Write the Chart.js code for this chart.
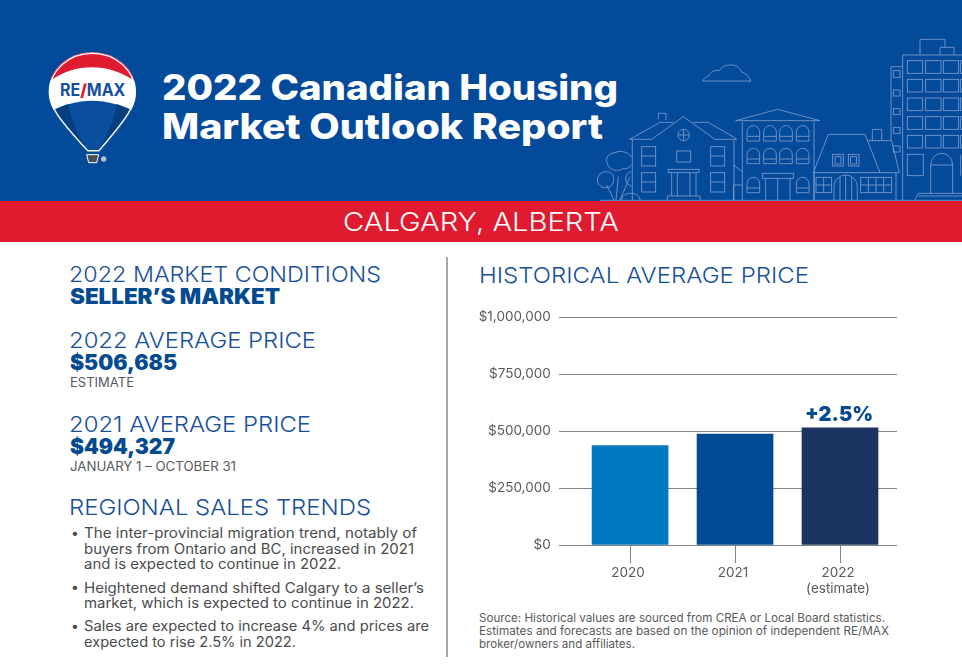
<!DOCTYPE html>
<html>
<head>
<meta charset="utf-8">
<script src="https://cdn.jsdelivr.net/npm/chart.js@4"></script>
<style>
html, body { margin: 0; padding: 0; background: #fff; }
body { width: 962px; height: 669px; position: relative; overflow: hidden; font-family: Inter, sans-serif; }
#top { position: absolute; left: 0; top: 0; width: 962px; height: 201px; background: #034a9a; }
#band { position: absolute; left: 0; top: 201px; width: 962px; height: 41px; background: #e01a2f; }
#rule { position: absolute; left: 446px; top: 257px; width: 2px; height: 400px; background: #a6a8ab; }
#logo { position: absolute; left: 0; top: 30px; }
#town { position: absolute; left: 590px; top: 30px; }
#town * { fill: none; stroke: #7d99cc; stroke-width: 2.6; }
#wrap { position: absolute; left: 470px; top: 300px; width: 435px; height: 300px; }
.t { position: absolute; white-space: nowrap; line-height: 1; transform-origin: left top; }
.title { color: #fff; font-weight: 800; font-size: 35px; }
.city { color: #fff; font-weight: 300; font-size: 26px; }
.head { color: #17509a; font-weight: 300; font-size: 22px; }
.big { color: #034a8f; font-weight: 900; font-size: 21px; }
.small { color: #58595b; font-weight: 400; font-size: 12.5px; }
.body { color: #4a4a4c; font-weight: 400; font-size: 14px; }
.src { color: #58595b; font-weight: 400; font-size: 11.5px; }
</style>
</head>
<body>
<div id="top"></div>
<div id="band"></div>
<div id="rule"></div>

<svg id="logo" width="320" height="150" viewBox="0 0 960 450">
  <defs>
    <clipPath id="env"><path d="M277 67 C350 67 408 120 408 185 C408 230 385 265 298 365 L262 365 C170 265 146 230 146 185 C146 120 204 67 277 67 Z"/></clipPath>
  </defs>
  <path d="M277 67 C350 67 408 120 408 185 C408 230 385 265 298 365 L262 365 C170 265 146 230 146 185 C146 120 204 67 277 67 Z" fill="#fff"/>
  <g clip-path="url(#env)">
    <path d="M140 60 H415 V155 L400 150 C360 125 320 112 277 112 C230 112 190 125 155 150 L140 155 Z" fill="#e01a2f"/>
    <path d="M140 248 L155 242 C190 225 230 212 277 212 C320 212 365 225 400 242 L415 248 V370 H140 Z" fill="#0a4f9e"/>
    <path d="M205 222 C215 280 240 330 268 368 H140 V248 L155 242 Z" fill="#063f80"/>
    <path d="M350 222 C340 280 315 330 292 368 H415 V248 L400 242 Z" fill="#063f80"/>
  </g>
  <path d="M277 70 C348 70 405 122 405 185 C405 230 382 263 297 362 L263 362 C172 263 149 230 149 185 C149 122 206 70 277 70 Z" fill="none" stroke="#fff" stroke-width="4"/>
  <text x="278" y="197" text-anchor="middle" font-family="Inter" font-weight="700" font-size="50" fill="#17509a" textLength="196" lengthAdjust="spacingAndGlyphs">RE<tspan fill="#e01a2f" font-weight="900">/</tspan>MAX</text>
  <path d="M260 374 H296 L290 398 H266 Z" fill="#4a4f57" stroke="#fff" stroke-width="3"/>
  <circle cx="311" cy="387" r="8" fill="#b8c0cc"/>
</svg>

<svg id="town" width="372" height="180" viewBox="0 0 1116 540">
  <defs>
    <rect id="win" width="46" height="38"/>
    <path id="arch" d="M0 46 V19 A19 19 0 0 1 38 19 V46 Z M0 32 H38"/>
  </defs>
  <path d="M338 153 H483 C478 140 468 130 455 126 C450 112 436 104 420 105 C404 105 394 112 388 122 C372 118 360 128 356 138 C348 140 340 146 338 153 Z"/>
  <path d="M30 511 H1116"/>
  <!-- tower -->
  <path d="M938 510 V75 H1116 M990 75 V28 H1065 V52 M1050 75 V52 H1092 V75 M938 110 H903 V330"/>
  <rect x="910" y="122" width="20" height="20"/><rect x="910" y="180" width="20" height="18"/><rect x="910" y="236" width="20" height="18"/><rect x="910" y="292" width="20" height="18"/><rect x="910" y="348" width="20" height="18"/>
  <use href="#win" x="952" y="92"/><use href="#win" x="1007" y="92"/><use href="#win" x="1060" y="92"/><use href="#win" x="1112" y="92"/>
  <use href="#win" x="952" y="148"/><use href="#win" x="1007" y="148"/><use href="#win" x="1060" y="148"/><use href="#win" x="1112" y="148"/>
  <use href="#win" x="952" y="204"/><use href="#win" x="1007" y="204"/><use href="#win" x="1060" y="204"/><use href="#win" x="1112" y="204"/>
  <use href="#win" x="952" y="260"/><use href="#win" x="1007" y="260"/><use href="#win" x="1060" y="260"/><use href="#win" x="1112" y="260"/>
  <use href="#win" x="952" y="316"/><use href="#win" x="1007" y="316"/><use href="#win" x="1060" y="316"/><use href="#win" x="1112" y="316"/>
  <rect x="952" y="373" width="48" height="64"/>
  <path d="M1022 490 V405 A33 35 0 0 1 1088 405 H1022 M1088 405 V490 M1112 373 V437"/>
  <path d="M975 510 L985 490 H1116 M985 498 H1116"/>
  <!-- first house -->
  <path d="M127 510 V330 M432 510 V330 M118 328 H185 L280 260 L375 328 H440 L432 322 L355 277 H310 M250 277 H210 L130 322 L118 328 M205 268 V250 H228 V270"/>
  <circle cx="281" cy="315" r="17"/><path d="M264 315 H298 M281 298 V332"/>
  <rect x="155" y="350" width="42" height="58"/><path d="M155 378 H197"/>
  <rect x="155" y="428" width="42" height="58"/><path d="M155 456 H197"/>
  <rect x="362" y="350" width="42" height="58"/><path d="M362 378 H404"/>
  <rect x="362" y="428" width="42" height="58"/><path d="M362 456 H404"/>
  <rect x="260" y="363" width="42" height="33"/>
  <rect x="235" y="418" width="92" height="10"/>
  <path d="M245 428 V498 M318 428 V498 M262 428 V498 M300 428 V498 M232 510 V498 H330 V510"/>
  <!-- second house -->
  <path d="M457 510 V275 M672 510 V275 M437 272 L563 238 L690 272 Z"/>
  <use href="#arch" x="471" y="287"/><use href="#arch" x="521" y="287"/><use href="#arch" x="569" y="287"/><use href="#arch" x="619" y="287"/>
  <use href="#arch" x="471" y="355"/><use href="#arch" x="521" y="355"/><use href="#arch" x="569" y="355"/><use href="#arch" x="619" y="355"/>
  <use href="#arch" x="471" y="442"/><use href="#arch" x="619" y="442"/>
  <rect x="518" y="430" width="92" height="15"/>
  <path d="M527 445 V510 M600 445 V510 M563 445 V510"/>
  <!-- third house -->
  <path d="M670 428 L715 313 H825 L870 428 M835 332 H905 L928 428 H670 M847 332 V298 H875 V332 M672 428 V510 M918 428 V510"/>
  <rect x="728" y="373" width="32" height="35"/><rect x="735" y="380" width="18" height="22"/>
  <rect x="775" y="373" width="32" height="35"/><rect x="782" y="380" width="18" height="22"/>
  <rect x="678" y="442" width="47" height="46"/><path d="M701 442 V488 M678 465 H725"/>
  <rect x="812" y="442" width="93" height="46"/><path d="M835 442 V488 M858 442 V488 M881 442 V488 M812 465 H905"/>
  <path d="M732 510 V470 A35 35 0 0 1 802 470 V510 M750 442 V510 M767 435 V510 M785 442 V510"/>
  <!-- tree -->
  <path d="M78 510 L85 440 M72 510 L50 465 M90 510 L120 440"/>
  <path d="M125 382 C115 365 90 360 75 368 C55 368 45 385 52 400 C55 420 85 428 100 415 C110 420 120 410 125 405"/>
  <path d="M65 430 C45 418 22 430 22 450 C22 470 45 478 60 470 C72 465 75 440 65 430 Z"/>
  <path d="M125 425 C110 425 103 445 110 458 C115 465 122 468 125 468"/>
  <path d="M95 510 C95 495 110 488 125 490 C140 490 150 500 150 510"/>
  <path d="M430 510 V465 H457 M430 405 L457 425"/>
</svg>

<div class="t title" data-x="162" data-b="100" data-w="456">2022 Canadian Housing</div>
<div class="t title" data-x="162" data-b="139" data-w="441">Market Outlook Report</div>
<div class="t city" data-x="343" data-b="231" data-w="276">CALGARY, ALBERTA</div>

<div class="t head" data-x="69" data-b="282" data-w="312">2022 MARKET CONDITIONS</div>
<div class="t big" data-x="70" data-b="304" data-w="210">SELLER’S MARKET</div>
<div class="t head" data-x="69" data-b="348" data-w="247">2022 AVERAGE PRICE</div>
<div class="t big" data-x="70" data-b="370" data-w="107">$506,685</div>
<div class="t small" data-x="70" data-b="388" data-w="64">ESTIMATE</div>
<div class="t head" data-x="69" data-b="432" data-w="242">2021 AVERAGE PRICE</div>
<div class="t big" data-x="70" data-b="454" data-w="105">$494,327</div>
<div class="t small" data-x="70" data-b="472" data-w="166">JANUARY 1 – OCTOBER 31</div>
<div class="t head" data-x="69" data-b="515" data-w="302">REGIONAL SALES TRENDS</div>

<div class="t body" data-x="71" data-b="538">•</div>
<div class="t body" data-x="84" data-b="538" data-w="333">The inter-provincial migration trend, notably of</div>
<div class="t body" data-x="84" data-b="554" data-w="330">buyers from Ontario and BC, increased in 2021</div>
<div class="t body" data-x="84" data-b="569" data-w="257">and is expected to continue in 2022.</div>
<div class="t body" data-x="71" data-b="592">•</div>
<div class="t body" data-x="84" data-b="593" data-w="340">Heightened demand shifted Calgary to a seller’s</div>
<div class="t body" data-x="84" data-b="608" data-w="330">market, which is expected to continue in 2022.</div>
<div class="t body" data-x="71" data-b="631">•</div>
<div class="t body" data-x="84" data-b="631" data-w="345">Sales are expected to increase 4% and prices are</div>
<div class="t body" data-x="84" data-b="647" data-w="212">expected to rise 2.5% in 2022.</div>

<div class="t head" data-x="479" data-b="283" data-w="330">HISTORICAL AVERAGE PRICE</div>
<div class="t src" data-x="479" data-b="623" data-w="406">Source: Historical values are sourced from CREA or Local Board statistics.</div>
<div class="t src" data-x="479" data-b="636" data-w="410">Estimates and forecasts are based on the opinion of independent RE/MAX</div>
<div class="t src" data-x="479" data-b="649" data-w="156">broker/owners and affiliates.</div>

<div id="wrap"><canvas id="chart"></canvas></div>

<script>
const years = [2020, 2021, 2022];
const yearLabels = ["2020", "2021", ["2022", "(estimate)"]];
const prices = [436000, 487000, 514000];
const barColors = ["#0079c1", "#034a94", "#1b3361"];
const barNotes = ["", "", "+2.5%"];
const yTicks = [0, 250000, 500000, 750000, 1000000];
const yTickLabels = ["$0", "$250,000", "$500,000", "$750,000", "$1,000,000"];

// place the text lines: baseline given, width squeezed to what the picture shows
document.querySelectorAll(".t").forEach(el => {
    const size = parseFloat(getComputedStyle(el).fontSize);
    el.style.left = el.dataset.x + "px";
    el.style.top = (el.dataset.b - 0.864 * size) + "px";
    if (el.dataset.w) {
        const w = el.getBoundingClientRect().width;
        el.style.transform = `scaleX(${el.dataset.w / w})`;
    }
});

const noteLabels = {
    id: "noteLabels",
    afterDatasetsDraw(c) {
        const ctx = c.ctx;
        ctx.save();
        ctx.font = "900 20px Inter";
        ctx.fillStyle = "#034a8f";
        ctx.textAlign = "center";
        ctx.textBaseline = "alphabetic";
        c.getDatasetMeta(0).data.forEach((bar, i) => {
            if (barNotes[i]) ctx.fillText(barNotes[i], bar.x - 1, bar.y - 7);
        });
        ctx.restore();
    }
};

new Chart(document.getElementById("chart"), {
    type: "bar",
    data: {
        datasets: [{
            data: years.map((y, i) => ({ x: y, y: prices[i] })),
            backgroundColor: barColors,
            barThickness: 76
        }]
    },
    options: {
        responsive: true,
        maintainAspectRatio: false,
        animation: false,
        layout: { padding: { top: 17, right: 8, left: 0, bottom: 0 } },
        plugins: { legend: { display: false }, tooltip: { enabled: false } },
        scales: {
            x: {
                type: "linear",
                offset: false,
                min: 2019.32,
                max: 2022.543,
                afterFit(s) { s.height = 55; },
                afterBuildTicks(s) { s.ticks = years.map(v => ({ value: v })); },
                border: { display: false },
                grid: { offset: false, drawOnChartArea: false, drawTicks: true, tickLength: 18, color: "#808285", lineWidth: 1 },
                ticks: {
                    callback: v => yearLabels[years.indexOf(v)],
                    color: "#58595b",
                    font: { family: "Inter", size: 13.5 },
                    maxRotation: 0,
                    autoSkip: false,
                    labelOffset: -2,
                    padding: 2
                }
            },
            y: {
                min: 0,
                max: 1000000,
                afterFit(s) { s.width = 88.7; },
                afterBuildTicks(s) { s.ticks = yTicks.map(v => ({ value: v })); },
                border: { display: false },
                grid: { drawTicks: false, color: "#808285", lineWidth: 1 },
                ticks: {
                    callback: v => yTickLabels[yTicks.indexOf(v)],
                    color: "#58595b",
                    font: { family: "Inter", size: 13.5 },
                    padding: 8
                }
            }
        }
    },
    plugins: [noteLabels]
});
</script>
</body>
</html>
